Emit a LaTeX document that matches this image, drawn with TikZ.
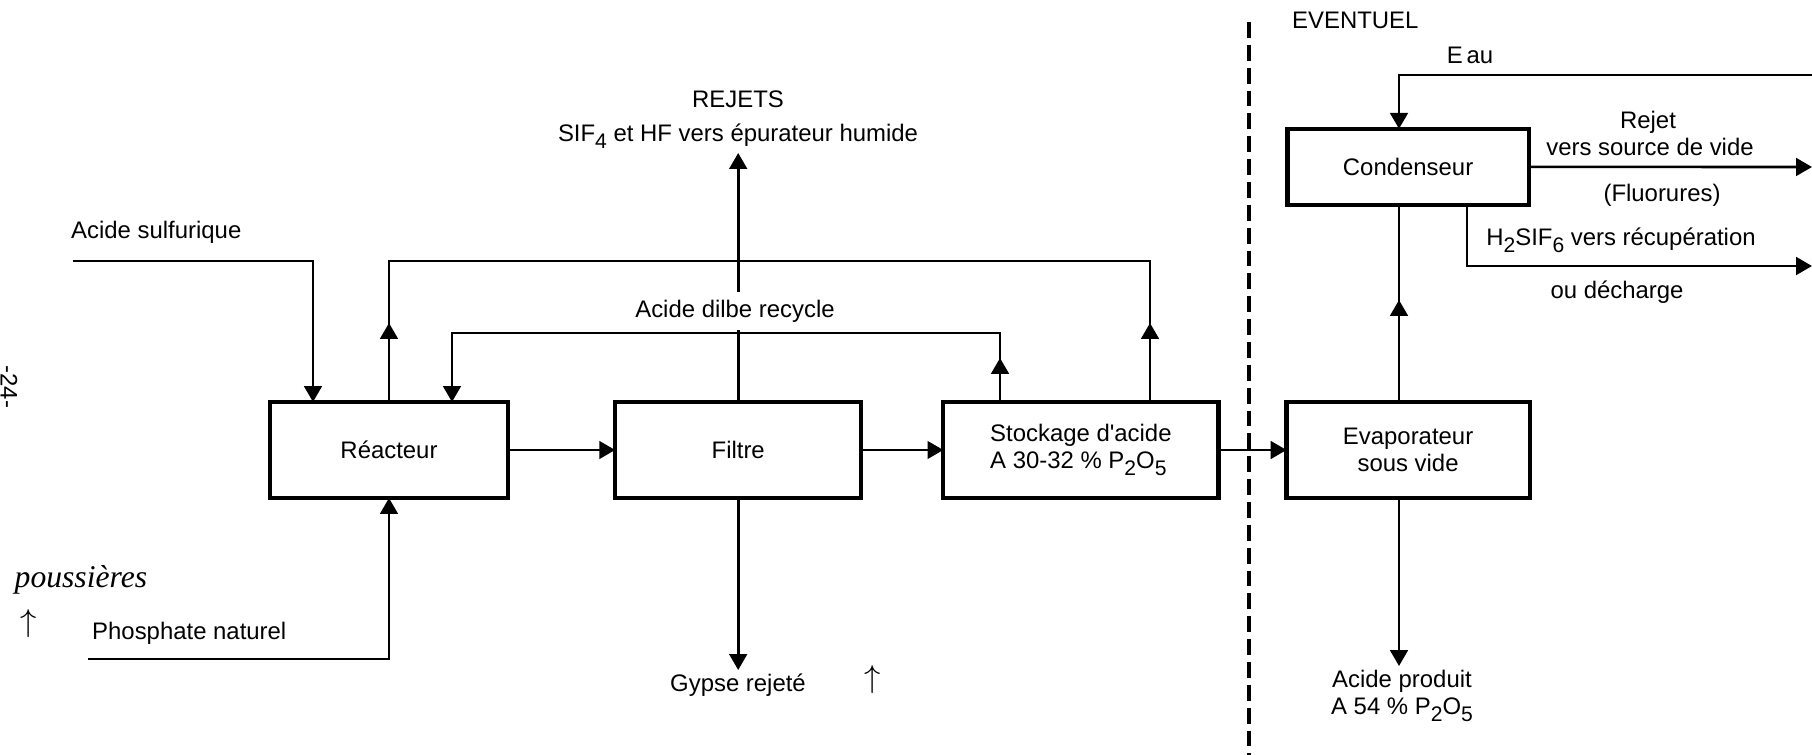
\documentclass[tikz,border=0pt]{standalone}
\usepackage{fontspec}
\setmainfont{Liberation Sans}
\newfontfamily\mainecrite{Liberation Serif}
\usetikzlibrary{arrows.meta,positioning}
\newcommand{\chemsub}[1]{\raisebox{-0.55ex}{\fontsize{6}{6}\selectfont #1}}

\begin{document}
\begin{tikzpicture}[
		x=0.01cm, y=-0.01cm,
		every node/.style = {font=\fontsize{6.8}{7.8}\selectfont},
		box/.style   = {draw, rectangle, line width=1.2pt, outer sep=0pt, minimum height=0.96cm, align=center},
		ligne/.style = {line width=0.75pt},
		flux/.style  = {ligne, ->},
		etiq/.style  = {inner sep=1pt, align=center},
		main/.style  = {inner sep=0pt, font=\fontsize{9}{10}\selectfont\mainecrite\itshape},
		limite/.style = {line width=1.3pt, dash pattern=on 4.5pt off 2pt},
		>={Triangle[width=5pt,length=4.5pt]}]
		\useasboundingbox (0,0) rectangle (1812,755);
		
		% the process units, left to right
		\node[box, minimum width=2.38cm] (reac) at (389,450) {Réacteur};
		\node[box, minimum width=2.46cm, right=1.07cm of reac] (filt) {Filtre};
		\node[box, minimum width=2.75cm, right=0.82cm of filt, align=left] (stock) {Stockage d\textquotesingle acide\\A 30-32 \% P\chemsub{2}O\chemsub{5}};
		\node[box, minimum width=2.43cm, right=0.68cm of stock] (evap) {Evaporateur\\sous vide};
		\node[box, minimum width=2.41cm, minimum height=0.76cm, above=1.97cm of evap] (cond) {Condenseur};
		
		% x and y levels of the pipes
		\coordinate (xs) at (313,0);
		\coordinate (xl) at (452,0);
		\coordinate (xi) at (1000,0);
		\coordinate (xo) at (1150,0);
		\coordinate (xv) at (1399,0);
		\coordinate (xh) at (1467,0);
		\coordinate (yo) at (0,261);
		\coordinate (yi) at (0,333);
		\coordinate (ao) at (0,323);
		\coordinate (ai) at (0,358);
		\coordinate (av) at (0,300);
		
		% free ends
		\coordinate (sulf) at (73,261);
		\coordinate (phos) at (88,659);
		\coordinate (eau) at (1812,75);
		\coordinate (vide) at (1812,167);
		\coordinate (recup) at (1812,266);
		\coordinate (dtop) at (1249,22);
		\coordinate (dbot) at (1249,755);
		
		% labels
		\node[etiq, anchor=west] (sulfl) at (67,232) {Acide sulfurique};
		\node[etiq, anchor=west] (phosl) at (88,633) {Phosphate naturel};
		\node[etiq, anchor=south] (rej) at (738,153) {REJETS\\[2pt]SIF\chemsub{4} et HF vers épurateur humide};
		\node[etiq, inner ysep=2pt] (recyc) at (735,311) {Acide dilbe recycle};
		\node[etiq, anchor=north] (gyp) at (738,670) {Gypse rejeté};
		\node[etiq, anchor=west] (event) at (1288,20) {EVENTUEL};
		\node[etiq] (eaul) at (1470,55) {E\,au};
		\node[etiq] (rejet) at (1648,122) {Rejet};
		\node[etiq] (vers) at (1650,147) {vers source de vide};
		\node[etiq] (fluo) at (1662,195) {(Fluorures)};
		\node[etiq] (h2) at (1621,240) {H\chemsub{2}SIF\chemsub{6} vers récupération};
		\node[etiq] (dech) at (1617,292) {ou décharge};
		\node[etiq, anchor=north] (prod) at (1402,666) {Acide produit\\A 54 \% P\chemsub{2}O\chemsub{5}};
		
		% hand notes on the page
		\node[main, anchor=west] (pous) at (14,580) {poussières};
		\node[main] (fl1) at (29,624) {$\uparrow$};
		\node[main] (fl2) at (873,680) {$\uparrow$};
		\node[etiq, rotate=-90] (page) at (9,387) {-24-};
		
		% feeds into the reactor
		\draw[flux] (sulf) -| (reac.north -| xs);
		\draw[flux] (phos) -| (reac.south);
		
		% main line
		\foreach \a/\b in {reac/filt, filt/stock, stock/evap}
		\draw[flux] (\a) -- (\b);
		
		% outer loop reactor - storage
		\draw[ligne] (reac.north) |- (xo |- yo) -- (stock.north -| xo);
		\draw[flux] (reac.north) -- (reac.north |- ao);
		\draw[flux] (stock.north -| xo) -- (xo |- ao);
		
		% recycled acid back to the reactor
		\draw[flux] (stock.north -| xi) |- (xl |- yi) -- (reac.north -| xl);
		\draw[flux] (stock.north -| xi) -- (xi |- ai);
		
		% filter outlets
		\draw[ligne] (filt.north) -- (filt.north |- recyc.south);
		\draw[flux] (filt.north |- recyc.north) -- (filt.north |- rej.south);
		\draw[flux] (filt.south) -- (filt.south |- gyp.north);
		
		% evaporator and condenser
		\draw[ligne] (evap.north -| xv) -- (cond.south -| xv);
		\draw[flux] (evap.north -| xv) -- (xv |- av);
		\draw[flux] (evap.south -| xv) -- (xv |- prod.north);
		\draw[flux] (eau) -| (cond.north -| xv);
		\draw[flux] (cond.east) -- (vide);
		\draw[flux] (cond.south -| xh) |- (recup);
		
		% limit of the optional part
		\draw[limite] (dtop) -- (dbot);
\end{tikzpicture}
\end{document}
